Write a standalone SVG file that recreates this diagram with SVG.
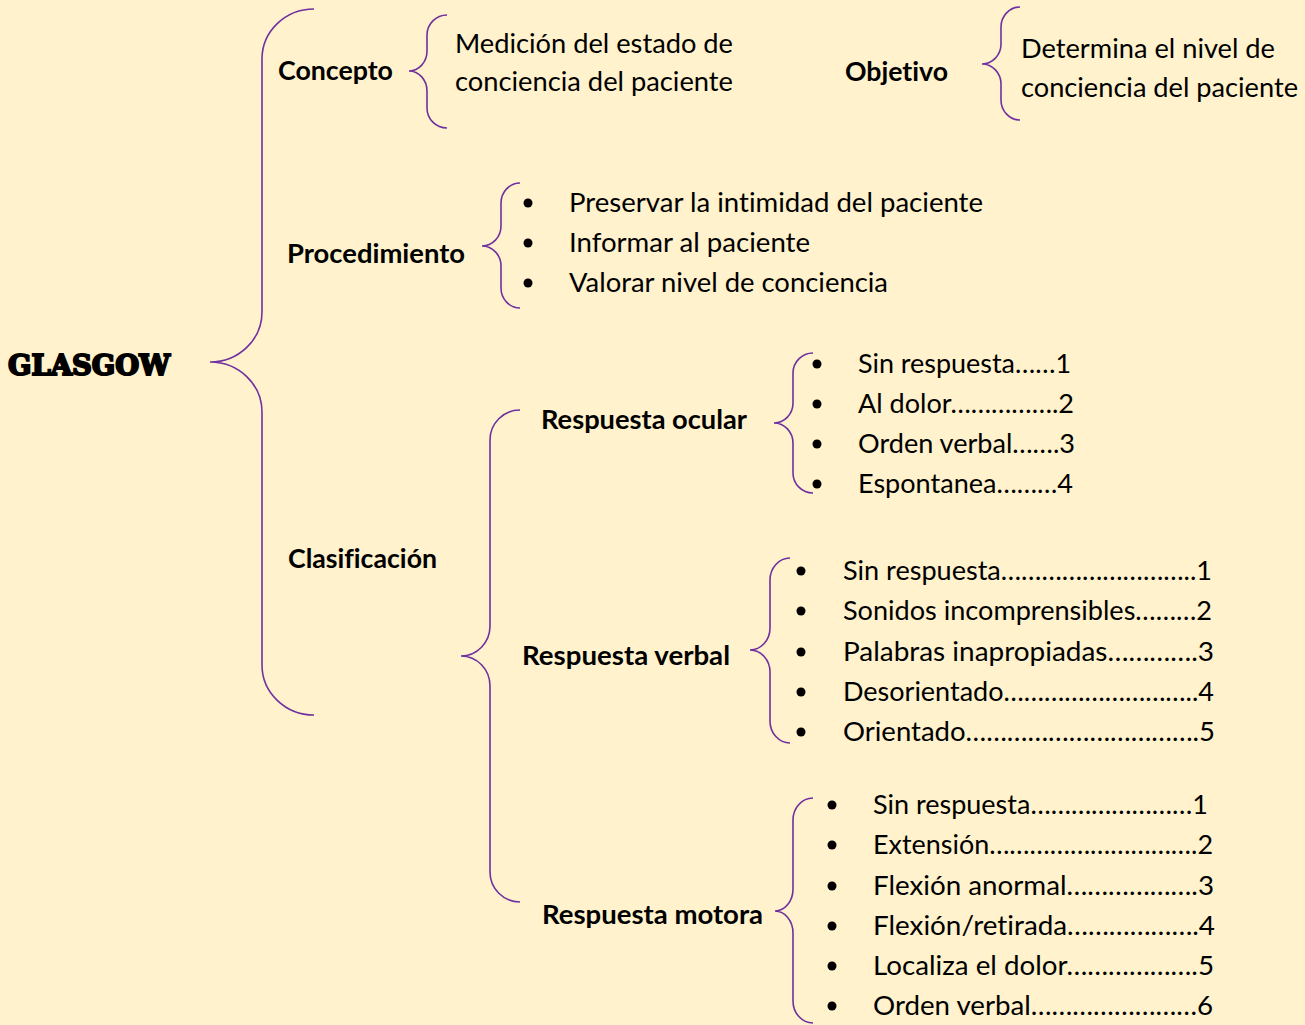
<svg xmlns="http://www.w3.org/2000/svg" width="1305" height="1025" viewBox="0 0 1305 1025">
<style>
.bg{fill:#FFF2CC}
.br{fill:none;stroke:#7030A0;stroke-width:1.6}
.t{font-family:Lato,"Liberation Sans",sans-serif;font-size:27.5px;fill:#000;font-variant-ligatures:none}
.b{font-family:Lato,"Liberation Sans",sans-serif;font-size:27.5px;font-weight:bold;fill:#000;font-variant-ligatures:none}
.g{font-family:"DejaVu Serif","Liberation Serif",serif;font-size:27.5px;font-weight:900;fill:#000;stroke:#000;stroke-width:2}
.d{fill:#000}
</style>
<rect class="bg" x="0" y="0" width="1305" height="1025"/>
<g id="connectors">
<path class="br" d="M314,9 A52,50 0 0 0 262,59 L262,312 A52,50 0 0 1 210,362 A52,50 0 0 1 262,412 L262,665 A52,50 0 0 0 314,715"/>
<path class="br" d="M447,15 A20,20 0 0 0 427,35 L427,51 A18,20 0 0 1 409,71 A18,20 0 0 1 427,91 L427,108 A20,20 0 0 0 447,128"/>
<path class="br" d="M1020,7 A19,20 0 0 0 1001,27 L1001,44 A19,20 0 0 1 982,64 A19,20 0 0 1 1001,84 L1001,100 A19,20 0 0 0 1020,120"/>
<path class="br" d="M520,183 A19,20 0 0 0 501,203 L501,226 A19,20 0 0 1 482,246 A19,20 0 0 1 501,266 L501,288 A19,20 0 0 0 520,308"/>
<path class="br" d="M520,410 A30,30 0 0 0 490,440 L490,626 A29,30 0 0 1 461,656 A29,30 0 0 1 490,686 L490,872 A30,30 0 0 0 520,902"/>
<path class="br" d="M813,353 A20,20 0 0 0 793,373 L793,403 A19,20 0 0 1 774,423 A19,20 0 0 1 793,443 L793,473 A20,20 0 0 0 813,493"/>
<path class="br" d="M790,558 A20,22 0 0 0 770,580 L770,628 A20,22 0 0 1 750,650 A20,22 0 0 1 770,672 L770,721 A20,22 0 0 0 790,743"/>
<path class="br" d="M813,798 A20,22 0 0 0 793,820 L793,889 A18,22 0 0 1 775,911 A18,22 0 0 1 793,933 L793,1001 A20,22 0 0 0 813,1023"/>
</g>
<g id="glasgow"><text class="g" x="8" y="375" textLength="162" lengthAdjust="spacingAndGlyphs">GLASGOW</text></g>
<g id="concepto">
<text class="b" x="278" y="80" textLength="115" lengthAdjust="spacingAndGlyphs">Concepto</text>
</g>
<g id="concepto-texto">
<text class="t" x="455" y="53" textLength="278" lengthAdjust="spacingAndGlyphs">Medición del estado de</text>
<text class="t" x="455" y="91" textLength="278" lengthAdjust="spacingAndGlyphs">conciencia del paciente</text>
</g>
<g id="objetivo">
<text class="b" x="845" y="81" textLength="103" lengthAdjust="spacingAndGlyphs">Objetivo</text>
</g>
<g id="objetivo-texto">
<text class="t" x="1021" y="58" textLength="254" lengthAdjust="spacingAndGlyphs">Determina el nivel de</text>
<text class="t" x="1021" y="97" textLength="277" lengthAdjust="spacingAndGlyphs">conciencia del paciente</text>
</g>
<g id="procedimiento">
<text class="b" x="287" y="263" textLength="178" lengthAdjust="spacingAndGlyphs">Procedimiento</text>
</g>
<g id="procedimiento-lista">
<circle class="d" cx="528" cy="203" r="4.5"/><text class="t" x="569" y="212" textLength="414" lengthAdjust="spacingAndGlyphs">Preservar la intimidad del paciente</text>
<circle class="d" cx="528" cy="243" r="4.5"/><text class="t" x="569" y="252" textLength="241" lengthAdjust="spacingAndGlyphs">Informar al paciente</text>
<circle class="d" cx="528" cy="283" r="4.5"/><text class="t" x="569" y="292" textLength="319" lengthAdjust="spacingAndGlyphs">Valorar nivel de conciencia</text>
</g>
<g id="clasificacion">
<text class="b" x="288" y="568" textLength="149" lengthAdjust="spacingAndGlyphs">Clasificación</text>
</g>
<g id="respuesta-ocular">
<text class="b" x="541" y="429" textLength="206" lengthAdjust="spacingAndGlyphs">Respuesta ocular</text>
</g>
<g id="ocular-lista">
<circle class="d" cx="817" cy="364" r="4.5"/><text class="t" x="858" y="373" textLength="213" lengthAdjust="spacingAndGlyphs">Sin respuesta……1</text>
<circle class="d" cx="817" cy="404" r="4.5"/><text class="t" x="858" y="413" textLength="216" lengthAdjust="spacingAndGlyphs">Al dolor…………….2</text>
<circle class="d" cx="817" cy="444" r="4.5"/><text class="t" x="858" y="453" textLength="217" lengthAdjust="spacingAndGlyphs">Orden verbal…….3</text>
<circle class="d" cx="817" cy="484" r="4.5"/><text class="t" x="858" y="493" textLength="215" lengthAdjust="spacingAndGlyphs">Espontanea………4</text>
</g>
<g id="respuesta-verbal">
<text class="b" x="522" y="665" textLength="208" lengthAdjust="spacingAndGlyphs">Respuesta verbal</text>
</g>
<g id="verbal-lista">
<circle class="d" cx="801" cy="571" r="4.5"/><text class="t" x="843" y="580" textLength="369" lengthAdjust="spacingAndGlyphs">Sin respuesta………………………..1</text>
<circle class="d" cx="801" cy="611" r="4.5"/><text class="t" x="843" y="620" textLength="369" lengthAdjust="spacingAndGlyphs">Sonidos incomprensibles………2</text>
<circle class="d" cx="801" cy="652" r="4.5"/><text class="t" x="843" y="661" textLength="371" lengthAdjust="spacingAndGlyphs">Palabras inapropiadas………….3</text>
<circle class="d" cx="801" cy="692" r="4.5"/><text class="t" x="843" y="701" textLength="371" lengthAdjust="spacingAndGlyphs">Desorientado………………………..4</text>
<circle class="d" cx="801" cy="732" r="4.5"/><text class="t" x="843" y="741" textLength="372" lengthAdjust="spacingAndGlyphs">Orientado…………………………….5</text>
</g>
<g id="respuesta-motora">
<text class="b" x="542" y="924" textLength="221" lengthAdjust="spacingAndGlyphs">Respuesta motora</text>
</g>
<g id="motora-lista">
<circle class="d" cx="832" cy="805" r="4.5"/><text class="t" x="873" y="814" textLength="335" lengthAdjust="spacingAndGlyphs">Sin respuesta……………………1</text>
<circle class="d" cx="832" cy="845" r="4.5"/><text class="t" x="873" y="854" textLength="340" lengthAdjust="spacingAndGlyphs">Extensión………………………….2</text>
<circle class="d" cx="832" cy="886" r="4.5"/><text class="t" x="873" y="895" textLength="341" lengthAdjust="spacingAndGlyphs">Flexión anormal……………….3</text>
<circle class="d" cx="832" cy="926" r="4.5"/><text class="t" x="873" y="935" textLength="342" lengthAdjust="spacingAndGlyphs">Flexión/retirada……………….4</text>
<circle class="d" cx="832" cy="966" r="4.5"/><text class="t" x="873" y="975" textLength="341" lengthAdjust="spacingAndGlyphs">Localiza el dolor……………….5</text>
<circle class="d" cx="832" cy="1006" r="4.5"/><text class="t" x="873" y="1015" textLength="340" lengthAdjust="spacingAndGlyphs">Orden verbal……………………6</text>
</g>
</svg>
